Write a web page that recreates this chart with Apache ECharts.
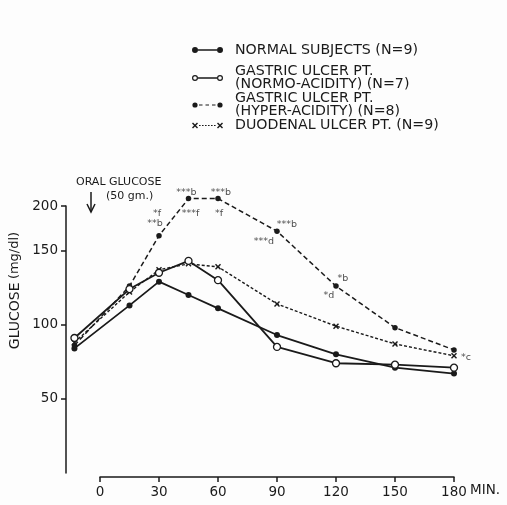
<!DOCTYPE html>
<html>
<head>
<meta charset="utf-8">
<script src="https://cdn.jsdelivr.net/npm/echarts@6/dist/echarts.min.js"></script>
<style>
html,body{margin:0;padding:0;background:#fdfdfd;}
#chart{width:507px;height:505px;}
</style>
</head>
<body>
<div id="chart"></div>
<script>
// ---- data ----
var times = [-13, 15, 30, 45, 60, 90, 120, 150, 180];
var normal = [84, 113, 129, 120, 111, 93, 80, 71, 67];
var normo = [91, 124, 135, 143, 130, 85, 74, 73, 71];
var hyper = [86, 126, 160, 185, 185, 163, 126, 98, 83];
var duodenal = [88, 122, 137, 141, 139, 114, 99, 87, 79];

var seriesNames = [
  'NORMAL SUBJECTS (N=9)',
  'GASTRIC ULCER PT.\n(NORMO-ACIDITY) (N=7)',
  'GASTRIC ULCER PT.\n(HYPER-ACIDITY) (N=8)',
  'DUODENAL ULCER PT. (N=9)'
];

var xTicks = [0, 30, 60, 90, 120, 150, 180];
var yTickValues = [50, 100, 150, 180];
var yTickLabels = ['50', '100', '150', '200'];

// significance annotations on the hyper-acidity curve (index into times)
var annoIndex = [2, 2, 3, 3, 4, 4, 5, 5, 6, 6];
var annoText = ['*f', '**b', '***b', '***f', '***b', '*f', '***b', '***d', '*b', '*d'];
// annotation on the duodenal curve
var duoAnnoIndex = [8];
var duoAnnoText = ['*c'];

// ---- styles ----
var annoOffsets = [[-2, -22], [-4, -12], [-2, -6], [2, 15], [3, -6], [1, 15], [10, -7], [-13, 10], [7, -8], [-7, 9]];
var duoAnnoOffsets = [[12, 2]];
var INK = '#1a1a1a';
var FONT = 'DejaVu Sans';
var PX_LEFT = 66;      // y-axis position
var X0_LEFT = 100;     // where time 0 sits
var RIGHT = 53;
var TOP = 206;
var BOTTOM = 32;
var dataXMin = -(X0_LEFT - PX_LEFT) * 180 / (507 - RIGHT - X0_LEFT);

var xPath = 'path://M0,1 L1,0 L3,2 L5,0 L6,1 L4,3 L6,5 L5,6 L3,4 L1,6 L0,5 L2,3 Z';

function circ(cx, cy, r, ccw) {
  var s = ccw ? 0 : 1;
  return 'M' + (cx - r) + ',' + cy + ' A' + r + ',' + r + ' 0 1,' + s + ' ' + (cx + r) + ',' + cy +
         ' A' + r + ',' + r + ' 0 1,' + s + ' ' + (cx - r) + ',' + cy + ' Z ';
}
function rect(x1, y1, x2, y2) {
  return 'M' + x1 + ',' + y1 + ' L' + x2 + ',' + y1 + ' L' + x2 + ',' + y2 + ' L' + x1 + ',' + y2 + ' Z ';
}
function xmark(ox) {
  var p = [[0,1],[1,0],[3,2],[5,0],[6,1],[4,3],[6,5],[5,6],[3,4],[1,6],[0,5],[2,3]];
  return 'M' + p.map(function (q) { return (q[0] + ox) + ',' + q[1]; }).join(' L') + ' Z ';
}
var iconNormal = 'path://' + circ(3, 3, 3) + circ(28, 3, 3) + rect(6, 2.3, 25, 3.7);
var iconNormo = 'path://' + circ(3, 3, 3) + circ(3, 3, 1.8, true) + circ(28, 3, 3) + circ(28, 3, 1.8, true) + rect(6, 2.3, 25, 3.7);
var iconHyper = 'path://' + circ(3, 3, 2.6) + circ(28, 3, 2.6) + rect(7, 2.4, 10.5, 3.6) + rect(13.5, 2.4, 17, 3.6) + rect(20, 2.4, 23.5, 3.6) + 'M0,0 Z M31,6 Z';
var iconDuo = 'path://' + xmark(0) + xmark(25) + rect(7, 2.5, 8.6, 3.5) + rect(10, 2.5, 11.6, 3.5) + rect(13, 2.5, 14.6, 3.5) + rect(16, 2.5, 17.6, 3.5) + rect(19, 2.5, 20.6, 3.5) + rect(22, 2.5, 23.6, 3.5);

function pairs(vals) { return times.map(function (t, i) { return [t, vals[i]]; }); }

var annoData = annoIndex.map(function (idx, k) {
  return { value: [times[idx], hyper[idx]], label: { formatter: annoText[k], offset: annoOffsets[k] } };
});
var duoAnnoData = duoAnnoIndex.map(function (idx, k) {
  return { value: [times[idx], duodenal[idx]], label: { formatter: duoAnnoText[k], offset: duoAnnoOffsets[k] } };
});

var legendText = { fontFamily: FONT, fontSize: 14.2, color: INK, lineHeight: 13, padding: [0, 0, 0, 7] };
var legendItemStyle = { color: INK, borderWidth: 0 };

var chart = echarts.init(document.getElementById('chart'), null, { renderer: 'canvas' });
chart.setOption({
  animation: false,
  backgroundColor: '#fdfdfd',
  grid: [
    { left: PX_LEFT, right: RIGHT, top: TOP, bottom: BOTTOM },
    { left: X0_LEFT, right: RIGHT, top: TOP, bottom: BOTTOM }
  ],
  legend: [
    {
      orient: 'vertical', left: 192, top: 43, padding: 0, itemWidth: 31, itemHeight: 6, itemGap: 0,
      selectedMode: false, textStyle: legendText,
      data: [{ name: seriesNames[0], icon: iconNormal, itemStyle: legendItemStyle }]
    },
    {
      orient: 'vertical', left: 192, top: 64.5, padding: 0, itemWidth: 31, itemHeight: 6, itemGap: 0,
      selectedMode: false, textStyle: legendText,
      data: [
        { name: seriesNames[1], icon: iconNormo, itemStyle: legendItemStyle },
        { name: seriesNames[2], icon: iconHyper, itemStyle: legendItemStyle },
        { name: seriesNames[3], icon: iconDuo, itemStyle: legendItemStyle }
      ]
    }
  ],
  xAxis: [
    { gridIndex: 0, type: 'value', min: dataXMin, max: 180, show: false },
    {
      gridIndex: 1, type: 'value', min: 0, max: 180, interval: 30, offset: 4,
      name: '\nMIN.', nameLocation: 'end', nameGap: 16, nameMoveOverlap: false,
      nameTextStyle: { fontFamily: FONT, fontSize: 13.5, color: INK, lineHeight: 27 },
      axisLine: { show: true, onZero: false, lineStyle: { color: INK, width: 1.5 } },
      axisTick: { show: true, inside: false, length: 5, lineStyle: { color: INK, width: 1.5 } },
      axisLabel: { fontFamily: FONT, fontSize: 13.5, color: INK, margin: 8 },
      splitLine: { show: false }
    }
  ],
  yAxis: [
    {
      gridIndex: 0, type: 'value', min: 0, max: 180,
      name: '{a|GLUCOSE} {b|(mg/dl)}', nameLocation: 'middle', nameGap: 44, nameMoveOverlap: false,
      nameTextStyle: {
        padding: [0, 0, 0, 98],
        rich: {
          a: { fontFamily: FONT, fontSize: 14, color: INK },
          b: { fontFamily: FONT, fontSize: 13, color: INK }
        }
      },
      axisLine: { show: true, onZero: false, lineStyle: { color: INK, width: 1.5 } },
      axisTick: { show: true, length: 5, lineStyle: { color: INK, width: 1.5 }, customValues: yTickValues },
      axisLabel: {
        fontFamily: FONT, fontSize: 13.5, color: INK, margin: 8, customValues: yTickValues,
        formatter: function (v) { var i = yTickValues.indexOf(v); return i >= 0 ? yTickLabels[i] : ''; }
      },
      splitLine: { show: false }
    },
    { gridIndex: 1, type: 'value', min: 0, max: 180, show: false }
  ],
  graphic: [
    { type: 'text', left: 76, top: 177, style: { text: 'ORAL GLUCOSE', fontFamily: FONT, fontSize: 11, fill: INK } },
    { type: 'text', left: 106, top: 191, style: { text: '(50 gm.)', fontFamily: FONT, fontSize: 11, fill: INK } },
    { type: 'line', shape: { x1: 91, y1: 192, x2: 91, y2: 212 }, style: { stroke: INK, lineWidth: 1.5 } },
    { type: 'polyline', shape: { points: [[87, 204], [91, 212], [95, 204]] }, style: { stroke: INK, lineWidth: 1.5, fill: null } }
  ],
  series: [
    {
      name: seriesNames[0], type: 'line', data: pairs(normal), clip: false, z: 3,
      symbol: 'circle', symbolSize: 6, showAllSymbol: true,
      lineStyle: { color: INK, width: 1.8 }, itemStyle: { color: INK, borderWidth: 0 }
    },
    {
      name: seriesNames[2], type: 'line', data: pairs(hyper), clip: false, z: 3,
      symbol: 'circle', symbolSize: 5.5,
      lineStyle: { color: INK, width: 1.5, type: [5, 3] }, itemStyle: { color: INK, borderWidth: 0 }
    },
    {
      name: seriesNames[3], type: 'line', data: pairs(duodenal), clip: false, z: 3,
      symbol: xPath, symbolSize: 6,
      lineStyle: { color: INK, width: 1.4, type: [3, 2] }, itemStyle: { color: INK, borderWidth: 0 }
    },
    {
      name: seriesNames[1], type: 'line', data: pairs(normo), clip: false, z: 4,
      symbol: 'circle', symbolSize: 7,
      lineStyle: { color: INK, width: 1.8 }, itemStyle: { color: '#ffffff', borderColor: INK, borderWidth: 1.3 }
    },
    {
      name: 'anno', type: 'scatter', data: annoData, symbolSize: 0, silent: true, z: 5, clip: false,
      label: { show: true, position: 'inside', fontFamily: FONT, fontSize: 9.5, color: INK }
    },
    {
      name: 'annoDuo', type: 'scatter', data: duoAnnoData, symbolSize: 0, silent: true, z: 5, clip: false,
      label: { show: true, position: 'inside', fontFamily: FONT, fontSize: 9.5, color: INK }
    }
  ]
});
</script>
</body>
</html>
